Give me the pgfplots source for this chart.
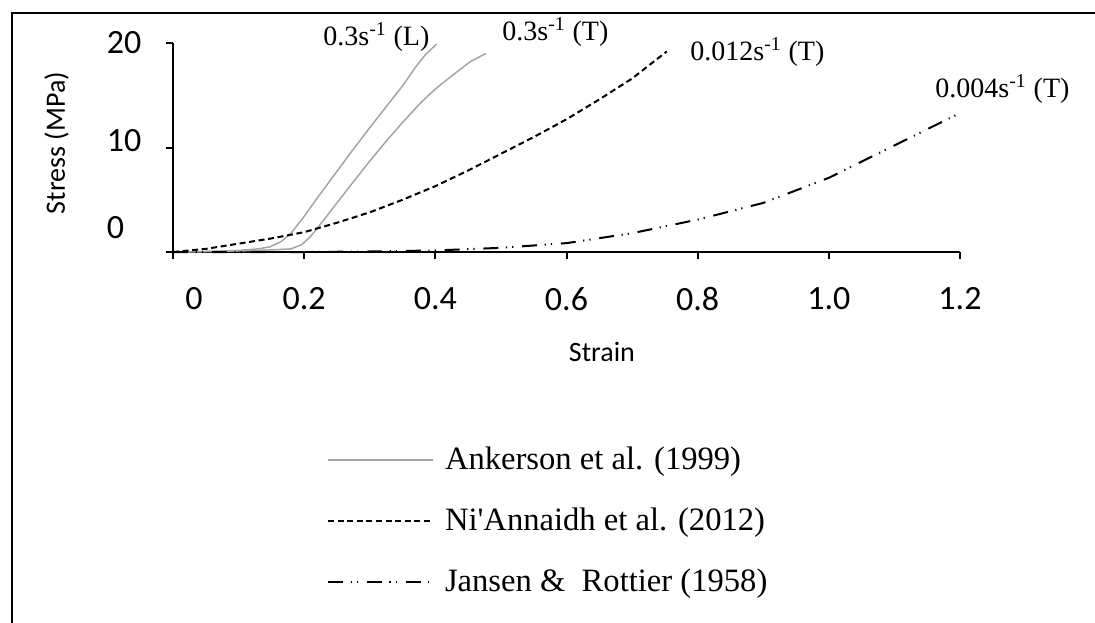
\documentclass[border=0pt]{standalone}
\usepackage{pgfplots}
\pgfplotsset{compat=1.18}
\usepackage{fontspec}
\setmainfont{Liberation Serif}
\newfontfamily\calibri{Carlito}
\definecolor{ankgray}{RGB}{165,165,165}
\begin{document}
\begin{tikzpicture}[x=1pt,y=1pt]
\draw[line width=1pt] (6pt,-700pt) -- (6pt,-6.5pt) -- (700pt,-6.5pt);
\begin{axis}[
  at={(86.5pt,-126pt)}, anchor=origin,
  scale only axis, width=393.5pt, height=104.5pt,
  xmin=0, xmax=1.2, ymin=0, ymax=20,
  axis x line*=bottom, axis y line*=left,
  axis line style={line width=1pt, black},
  xtick={0,0.2,0.4,0.6,0.8,1.0,1.2},
  xticklabels={\hspace*{21pt}0,0.2,0.4,0.6,0.8,1.0,1.2},
  ytick={0,10,20},
  yticklabels={\raisebox{25pt}{0\phantom{0}},\raisebox{7pt}{10},\raisebox{-3pt}{20}},
  tick align=outside, major tick length=3.5pt,
  tick style={line width=1pt, black},
  ticklabel style={font=\calibri\fontsize{17}{20}\selectfont},
  xticklabel style={yshift=-10.6pt},
  yticklabel style={xshift=-8.8pt},
  xlabel={Strain}, ylabel={Stress (MPa)},
  label style={font=\calibri\fontsize{14}{17}\selectfont},
  xlabel style={at={(axis description cs:0.545,-0.478)}, anchor=center},
  ylabel style={at={(axis description cs:-0.148,0.5215)}, anchor=center},
  clip=false,
  legend cell align=left,
  legend style={at={(axis description cs:0.1957,-0.928)}, anchor=north west,
    draw=none, fill=none, inner sep=0pt, outer sep=0pt,
    font=\fontsize{16.3}{19}\selectfont, row sep=16.5pt, column sep=5.5pt,
    nodes={inner sep=0pt, text height=12pt, text depth=2pt}},
  legend image code/.code={\draw[#1] (0pt,0pt) -- (52.5pt,0pt);},
]
\addplot[ankgray, line width=0.75pt] coordinates {
 (0,0) (0.05,0.05) (0.1,0.15) (0.13,0.3) (0.148,0.5) (0.165,1.0) (0.18,1.8)
 (0.2,3.4) (0.218,5.0) (0.245,7.3) (0.271,9.5) (0.3,11.9) (0.325,13.9)
 (0.35,15.9) (0.37,17.7) (0.385,18.9) (0.402,19.9)};
\addlegendentry{Ankerson et al. (1999)}
\addplot[ankgray, line width=0.75pt, forget plot] coordinates {
 (0,0) (0.05,0.05) (0.1,0.1) (0.15,0.2) (0.18,0.3) (0.196,0.7) (0.21,1.5)
 (0.234,3.4) (0.25,4.7) (0.271,6.4) (0.3,8.7) (0.325,10.6) (0.35,12.4)
 (0.378,14.3) (0.4,15.6) (0.426,16.9) (0.453,18.2) (0.477,19.0)};
\addplot[black, line width=1pt, dash pattern=on 3pt off 1.8pt] coordinates {
 (0,0) (0.05,0.3) (0.1,0.8) (0.15,1.3) (0.2,1.9) (0.25,2.8) (0.3,3.8)
 (0.35,5.0) (0.4,6.3) (0.45,7.8) (0.5,9.4) (0.55,11.0) (0.6,12.7)
 (0.65,14.6) (0.7,16.6) (0.753,19.2)};
\addlegendentry{Ni\textquotesingle Annaidh et al. (2012)}
\addplot[black, line width=1pt, dash pattern=on 7.5pt off 3.8pt on 0.6pt off 2.5pt on 0.6pt off 4.4pt] coordinates {
 (0,0) (0.2,0) (0.3,0.05) (0.4,0.15) (0.5,0.4) (0.6,0.85) (0.7,1.8)
 (0.8,3.1) (0.9,4.7) (1.0,7.1) (1.1,10.2) (1.2,13.3)};
\addlegendentry{Jansen \& \ Rottier (1958)}
\node[anchor=west, inner sep=0pt, font=\fontsize{14}{16}\selectfont] at (axis cs:0.2287,20.57) {0.3s\textsuperscript{-1} (L)};
\node[anchor=west, inner sep=0pt, font=\fontsize{14}{16}\selectfont] at (axis cs:0.5017,21.05) {0.3s\textsuperscript{-1} (T)};
\node[anchor=west, inner sep=0pt, font=\fontsize{14}{16}\selectfont] at (axis cs:0.7883,19.14) {0.012s\textsuperscript{-1} (T)};
\node[anchor=west, inner sep=0pt, font=\fontsize{14}{16}\selectfont] at (axis cs:1.162,15.6) {0.004s\textsuperscript{-1} (T)};
\end{axis}
\pgfresetboundingbox
\path[use as bounding box] (0,0) rectangle (547.5pt,-311pt);
\end{tikzpicture}
\end{document}
